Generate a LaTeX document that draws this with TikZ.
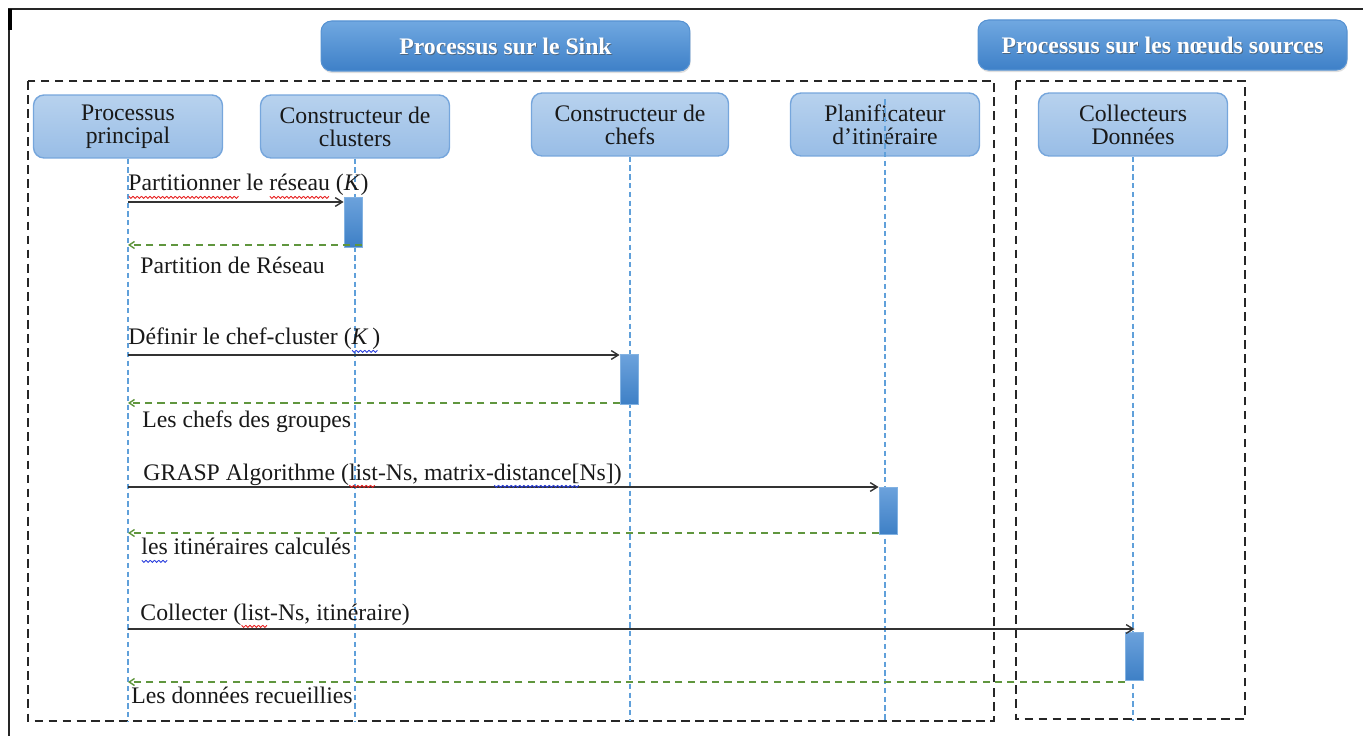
\documentclass[tikz,border=0pt]{standalone}
\usepackage{fontspec}
\setmainfont{Liberation Serif}
\usetikzlibrary{arrows.meta,shadows}

\definecolor{boxtop}{RGB}{184,210,238}
\definecolor{boxbot}{RGB}{152,189,230}
\definecolor{boxedge}{RGB}{118,166,220}
\definecolor{grptop}{RGB}{112,168,225}
\definecolor{grpbot}{RGB}{62,128,200}
\definecolor{grpedge}{RGB}{86,146,210}
\definecolor{acttop}{RGB}{108,162,220}
\definecolor{actbot}{RGB}{62,128,198}
\definecolor{actedge}{RGB}{130,178,226}
\definecolor{lifeblue}{RGB}{96,160,218}
\definecolor{retgreen}{RGB}{96,150,62}
\definecolor{ink}{RGB}{25,25,25}
\definecolor{spellred}{RGB}{230,30,30}
\definecolor{spellblue}{RGB}{40,60,220}

% wavy proofing underline below a piece of text
\newcommand\wavy[2]{%
  \setbox0=\hbox{#2}%
  \pgfmathsetmacro\wavn{int(\the\wd0/2.4)}%
  \rlap{\begin{pgfpicture}%
    \pgfsetbaseline{0pt}%
    \pgfsetlinewidth{0.5pt}%
    \pgfsetstrokecolor{#1}%
    \foreach \i in {1,...,\wavn}{%
      \pgfpathmoveto{\pgfpoint{\i*2.4pt-2.4pt}{-3pt}}%
      \pgfpathlineto{\pgfpoint{\i*2.4pt-1.2pt}{-4.2pt}}%
      \pgfpathlineto{\pgfpoint{\i*2.4pt}{-3pt}}%
      \pgfusepath{stroke}}%
  \end{pgfpicture}}%
  \box0\relax}

\begin{document}
\begin{tikzpicture}[x=0.02cm,y=-0.02cm,
  every node/.style={font=\fontsize{13.5pt}{13.2pt}\selectfont, text=ink},
  lifebox/.style={draw=boxedge, line width=0.8pt, rounded corners=6pt,
    top color=boxtop, bottom color=boxbot, minimum width=3.78cm,
    minimum height=1.26cm, align=center, inner sep=2pt},
  groupbox/.style={draw=grpedge, line width=0.6pt, rounded corners=6pt,
    top color=grptop, bottom color=grpbot, minimum width=7.38cm,
    minimum height=1.0cm, inner sep=0pt,
    drop shadow={opacity=0.25, shadow xshift=0.4pt, shadow yshift=-1.2pt}},
  grouptitle/.style={font=\fontsize{13.5pt}{13.5pt}\selectfont\bfseries, text=white},
  grouptitleshade/.style={font=\fontsize{13.5pt}{13.5pt}\selectfont\bfseries, text=black!70, opacity=0.6},
  frame/.style={draw=black!85, line width=0.8pt, dash pattern=on 5pt off 3pt},
  lifeline/.style={draw=lifeblue, line width=1pt, dash pattern=on 3pt off 2pt},
  act/.style={draw=actedge, line width=0.5pt, top color=acttop, bottom color=actbot,
    minimum width=0.36cm, minimum height=1.0cm, inner sep=0pt},
  msg/.style={draw=black!80, line width=0.8pt, -{Straight Barb[length=4pt,width=5pt]}},
  ret/.style={draw=retgreen, line width=0.8pt, dash pattern=on 4pt off 3pt,
    -{Straight Barb[length=3pt,width=4pt]}},
  lbl/.style={anchor=base west, inner sep=0pt}
]
\useasboundingbox (0,0) rectangle (1363,736);

% page border
\draw[line width=1.1pt, black!85] (9,736) -- (9,9) -- (1363,9);
\draw[line width=2.6pt, black] (10,9) -- (10,30);

% group headers
\node[groupbox] (sink) at (505.5,46) {};
\node[grouptitleshade] (sinkshade) at ([xshift=0.5pt,yshift=-0.7pt]sink.center) {Processus sur le Sink};
\node[grouptitle] (sinktitle) at (sink.center) {Processus sur le Sink};
\node[groupbox] (src) at (1162.5,45) {};
\node[grouptitleshade] (srcshade) at ([xshift=0.5pt,yshift=-0.7pt]src.center) {Processus sur les nœuds sources};
\node[grouptitle] (srctitle) at (src.center) {Processus sur les nœuds sources};

% group frames
\draw[frame] (28,81) rectangle (994,721);
\draw[frame] (1016,81) rectangle (1245,719);

% participants
\node[lifebox] (pp) at (128,126.5) {Processus\\principal};
\node[lifebox] (cc) at (355,126.5) {Constructeur de\\clusters};
\node[lifebox, minimum width=3.94cm] (ch) at (630,124.5) {Constructeur de\\chefs};
\node[lifebox] (pl) at (885,124.5) {Planificateur\\d'itinéraire};
\node[lifebox] (co) at (1133,124.5) {Collecteurs\\Données};

% lifelines
\coordinate (bottom) at (0,721);
\draw[lifeline] (pp.south) -- (pp.south |- bottom);
\draw[lifeline] (cc.south) -- (cc.south |- bottom);
\draw[lifeline] (ch.south) -- (ch.south |- bottom);
\draw[lifeline] ([yshift=-4pt]pl.north) -- (pl.south |- bottom);
\draw[lifeline] (co.south) -- (co.south |- bottom);

% activation bars
\node[act] (a1) at (353,222) {};
\node[act] (a2) at (629,379.5) {};
\node[act, minimum height=0.94cm] (a3) at (888,510.5) {};
\node[act, minimum height=0.96cm] (a4) at (1134.5,656) {};

% message rows
\coordinate (r1) at (0,202);
\coordinate (s1) at (0,245);
\coordinate (r2) at (0,355);
\coordinate (s2) at (0,403);
\coordinate (r3) at (0,487);
\coordinate (s3) at (0,533);
\coordinate (r4) at (0,629);
\coordinate (s4) at (0,682);

% calls and replies
\draw[msg] (pp |- r1) -- (a1.west |- r1);
\draw[ret] (a1.east |- s1) -- (pp |- s1);
\draw[msg] (pp |- r2) -- (a2.west |- r2);
\draw[ret] (a2.west |- s2) -- (pp |- s2);
\draw[msg] (pp |- r3) -- (a3.west |- r3);
\draw[ret] (a3.west |- s3) -- (pp |- s3);
\draw[msg] (pp |- r4) -- (a4.center |- r4);
\draw[ret] (a4.west |- s4) -- (pp |- s4);

% labels
\node[lbl] (l1) at (128,191) {\wavy{spellred}{Partitionner} le \wavy{spellred}{réseau} (\textit{K})};
\node[lbl] (k1) at (140,274) {Partition de Réseau};
\node[lbl] (l2) at (128,345) {Définir le chef-cluster (\wavy{spellblue}{\textit{K}\,)}};
\node[lbl] (k2) at (142,428) {Les chefs des groupes};
\node[lbl] (l3) at (143,480) {GRASP Algorithme (\wavy{spellred}{list}-Ns, matrix-\wavy{spellblue}{distance[}Ns])};
\node[lbl] (k3) at (141,555) {\wavy{spellblue}{les} itinéraires calculés};
\node[lbl] (l4) at (140,620) {Collecter (\wavy{spellred}{list}-Ns, itinéraire)};
\node[lbl] (k4) at (131,703) {Les données recueillies};
\end{tikzpicture}
\end{document}
